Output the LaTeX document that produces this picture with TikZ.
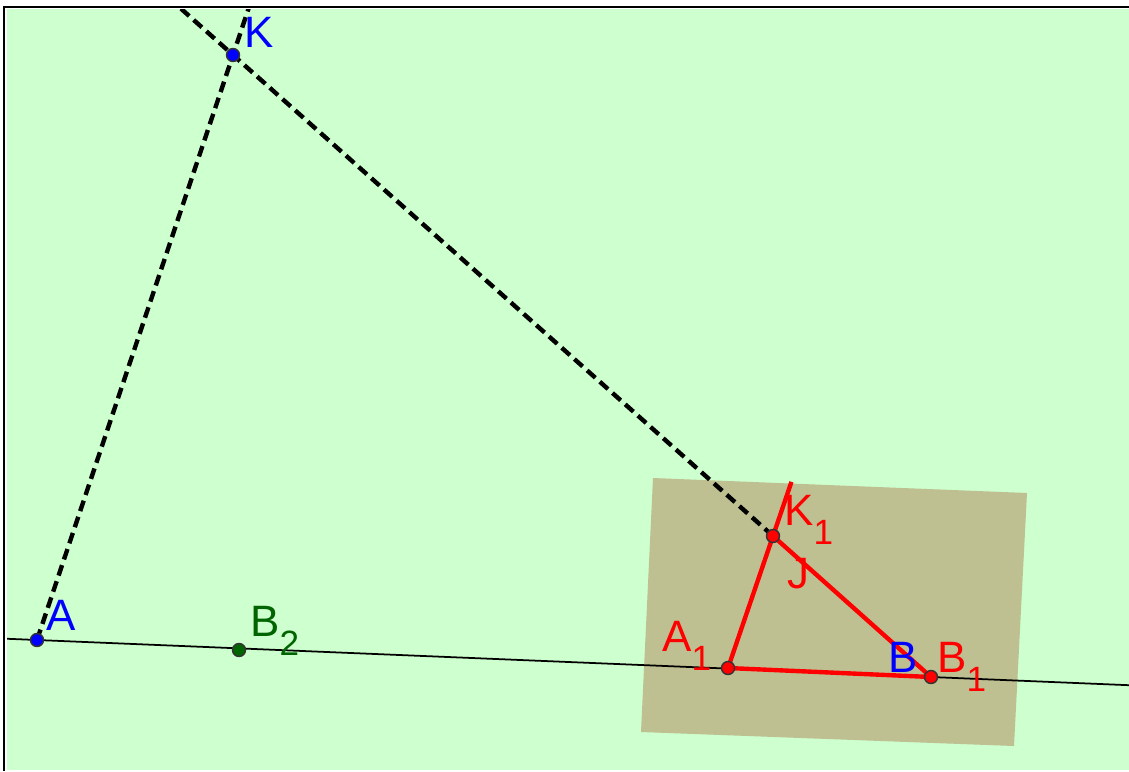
\documentclass[tikz,border=0pt]{standalone}
\usepackage{fontspec}
\setmainfont{Liberation Sans}
\usetikzlibrary{calc}
\definecolor{bggreen}{RGB}{206,255,206}
\definecolor{khaki}{RGB}{190,192,145}
\definecolor{ptblue}{RGB}{0,0,255}
\definecolor{ptgreen}{RGB}{0,100,0}
\definecolor{ptred}{RGB}{255,0,0}
\newcommand{\lowsub}[1]{\raisebox{-0.45em}{\fontsize{20}{22}\selectfont #1}}
\tikzset{
  pt/.style={circle,draw=black!80,line width=0.8pt,inner sep=0pt,minimum size=0.26cm},
  lbl/.style={inner sep=0pt,font=\fontsize{25}{28}\selectfont},
  dashline/.style={line width=2.5pt,dash pattern=on 0.22cm off 0.12cm},
  redline/.style={ptred,line width=2.5pt}
}

\begin{document}
\begin{tikzpicture}[x=0.02cm,y=-0.02cm]
  % fond et cadre
  \useasboundingbox (0,0) rectangle (1129,771);
  \fill[white] (0,0) rectangle (1129,771);
  \fill[bggreen] (7,9) rectangle (1129,770);
  \draw[line width=1.4pt] (1129,7) -- (4,7) -- (4,771);

  % coordonnees des points
  \coordinate (A) at (37,640);
  \coordinate (B2) at (239,650);
  \coordinate (K) at (233,55);
  \coordinate (K1) at (773,536);
  \coordinate (A1) at (728,668);
  \coordinate (B1) at (931,677);

  % quadrilatere
  \fill[khaki] (653,478) -- (1027,493) -- (1014,746) -- (641,732) -- cycle;

  % droites
  \begin{scope}
    \clip (7,9) rectangle (1129,770);
    \draw[line width=1pt] ($(A)!-0.05!(B1)$) -- ($(A)!1.3!(B1)$);
    \draw[dashline] (A) -- ($(A)!1.1!(K)$);
    \draw[dashline] (K1) -- ($(K1)!1.15!(K)$);
  \end{scope}

  % triangle rouge
  \draw[redline] (A1) -- ($(A1)!1.41!(K1)$);
  \draw[redline] (K1) -- (B1) -- (A1);

  % points
  \node[pt,fill=ptblue] (pA) at (A) {};
  \node[pt,fill=ptblue] (pK) at (K) {};
  \node[pt,fill=ptgreen] (pB2) at (B2) {};
  \node[pt,fill=ptred] (pK1) at (K1) {};
  \node[pt,fill=ptred] (pA1) at (A1) {};
  \node[pt,fill=ptred] (pB1) at (B1) {};

  % etiquettes
  \node[lbl,ptblue,anchor=base west] (lK) at (244,47) {K};
  \node[lbl,ptblue,anchor=base west] (lA) at (46,630) {A};
  \node[lbl,ptgreen,anchor=base west] (lB2) at (250,636) {B\lowsub{2}};
  \node[lbl,ptred,anchor=base west] (lK1) at (784,525) {K\lowsub{1}};
  \node[lbl,ptred,anchor=base west] (lJ) at (787,588) {J};
  \node[lbl,ptred,anchor=base west] (lA1) at (662,651) {A\lowsub{1}};
  \node[lbl,ptblue,anchor=base west] (lB) at (888,672) {B};
  \node[lbl,ptred,anchor=base west] (lB1) at (937,672) {B\lowsub{1}};
\end{tikzpicture}
\end{document}
